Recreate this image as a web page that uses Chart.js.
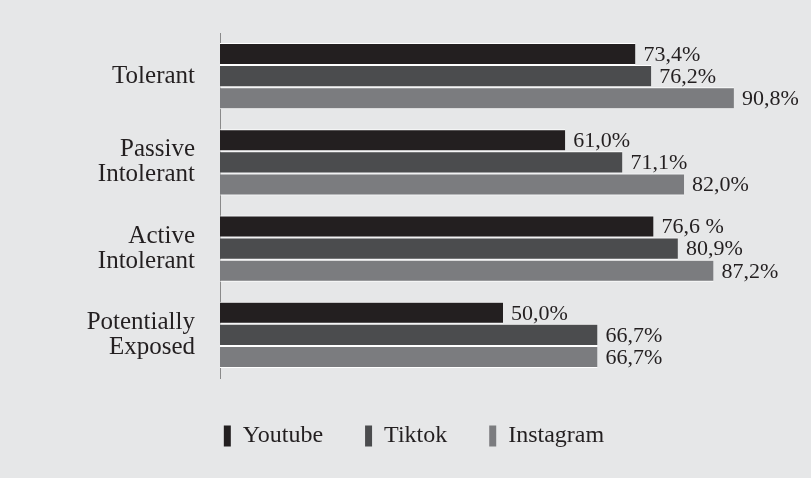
<!DOCTYPE html>
<html>
<head>
<meta charset="utf-8">
<script src="https://cdn.jsdelivr.net/npm/chart.js@4"></script>
<style>
  html, body { margin: 0; padding: 0; background: #e6e7e8; }
  #wrap { width: 811px; height: 478px; position: relative; }
</style>
</head>
<body>
<div id="wrap"><canvas id="c" width="811" height="478"></canvas></div>
<script>
const categories = [["Tolerant"], ["Passive", "Intolerant"], ["Active", "Intolerant"], ["Potentially", "Exposed"]];
const seriesNames = ["Youtube", "Tiktok", "Instagram"];
const youtube = [73.4, 61.0, 76.6, 50.0];
const tiktok = [76.2, 71.1, 80.9, 66.7];
const instagram = [90.8, 82.0, 87.2, 66.7];
const youtubeLabels = ["73,4%", "61,0%", "76,6 %", "50,0%"];
const tiktokLabels = ["76,2%", "71,1%", "80,9%", "66,7%"];
const instagramLabels = ["90,8%", "82,0%", "87,2%", "66,7%"];
const colors = ["#231f20", "#4b4c4e", "#7b7c7f"];

const FONT = "'Liberation Serif', 'Times New Roman', serif";
const TEXT = "#231f20";

const valueLabels = {
  id: "valueLabels",
  afterLayout(chart) {
    const lg = chart.legend;
    if (lg) {
      lg.left += 21; lg.right += 21;
      lg.top += 4; lg.bottom += 4;
    }
  },
  afterDatasetsDraw(chart) {
    const ctx = chart.ctx;
    ctx.save();
    ctx.font = "22px " + FONT;
    ctx.fillStyle = TEXT;
    ctx.textAlign = "left";
    ctx.textBaseline = "middle";
    chart.data.datasets.forEach((ds, i) => {
      const meta = chart.getDatasetMeta(i);
      meta.data.forEach((el, j) => {
        ctx.fillText(ds.valueText[j], el.x + 8, el.y + 1);
      });
    });
    ctx.restore();
  }
};

const mk = (name, data, txt, color) => ({
  label: name,
  data: data,
  valueText: txt,
  backgroundColor: color,
  borderColor: "#ffffff",
  borderWidth: { top: 1, bottom: 1, left: 0, right: 0 },
  borderSkipped: false,
  barPercentage: 1.0,
  categoryPercentage: 0.77
});

new Chart(document.getElementById("c"), {
  type: "bar",
  data: {
    labels: categories,
    datasets: [
      mk(seriesNames[0], youtube, youtubeLabels, colors[0]),
      mk(seriesNames[1], tiktok, tiktokLabels, colors[1]),
      mk(seriesNames[2], instagram, instagramLabels, colors[2])
    ]
  },
  options: {
    indexAxis: "y",
    responsive: false,
    animation: false,
    layout: { padding: { left: 0, right: 25, top: 33, bottom: 24 } },
    scales: {
      x: { display: false, min: 0, max: 100 },
      y: {
        grid: { display: false, drawTicks: false },
        border: { display: true, color: "#8a8a8a", width: 1 },
        ticks: {
          color: TEXT,
          padding: 25,
          font: { family: FONT, size: 25, lineHeight: 1.0 }
        },
        afterFit(scale) {
          scale.width = 220;
          scale.paddingTop = 0;
          scale.paddingBottom = 0;
        }
      }
    },
    plugins: {
      tooltip: { enabled: false },
      legend: {
        position: "bottom",
        labels: {
          color: TEXT,
          boxWidth: 7,
          boxHeight: 21,
          padding: 42,
          font: { family: FONT, size: 24 },
          generateLabels(chart) {
            return chart.data.datasets.map((ds, i) => ({
              text: ds.label,
              fillStyle: ds.backgroundColor,
              strokeStyle: "rgba(0,0,0,0)",
              lineWidth: 0,
              fontColor: TEXT,
              hidden: false,
              datasetIndex: i
            }));
          }
        }
      }
    }
  },
  plugins: [valueLabels]
});
</script>
</body>
</html>
